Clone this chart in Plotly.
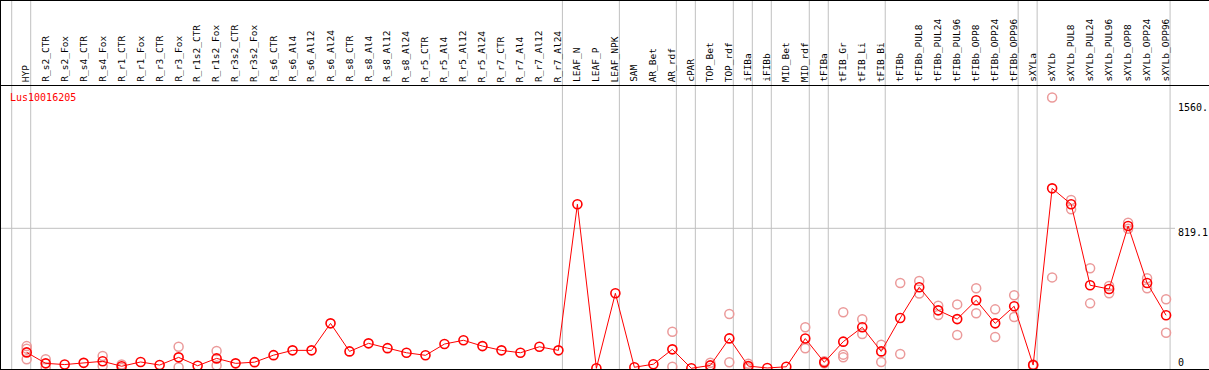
import plotly.graph_objects as go

W, H = 1209, 370
HEADER = 85

gene = "Lus10016205"

labels = ["HYP", "R_s2_CTR", "R_s2_Fox", "R_s4_CTR", "R_s4_Fox", "R_r1_CTR", "R_r1_Fox",
          "R_r3_CTR", "R_r3_Fox", "R_r1s2_CTR", "R_r1s2_Fox", "R_r3s2_CTR", "R_r3s2_Fox",
          "R_s6_CTR", "R_s6_Al4", "R_s6_Al12", "R_s6_Al24", "R_s8_CTR", "R_s8_Al4",
          "R_s8_Al12", "R_s8_Al24", "R_r5_CTR", "R_r5_Al4", "R_r5_Al12", "R_r5_Al24",
          "R_r7_CTR", "R_r7_Al4", "R_r7_Al12", "R_r7_Al24", "LEAF_N", "LEAF_P", "LEAF_NPK",
          "SAM", "AR_Bet", "AR_rdf", "cPAR", "TOP_Bet", "TOP_rdf", "iFIBa", "iFIBb",
          "MID_Bet", "MID_rdf", "tFIBa", "tFIB_Gr", "tFIB_Li", "tFIB_Bi", "tFIBb",
          "tFIBb_PUL8", "tFIBb_PUL24", "tFIBb_PUL96", "tFIBb_OPP8", "tFIBb_OPP24",
          "tFIBb_OPP96", "sXYLa", "sXYLb", "sXYLb_PUL8", "sXYLb_PUL24", "sXYLb_PUL96",
          "sXYLb_OPP8", "sXYLb_OPP24", "sXYLb_OPP96"]

# group sizes (gray separators after each group)
group_sizes = [1, 28, 3, 3, 1, 2, 1, 1, 2, 1, 3, 7, 1, 7]

mean_vals = [93, 29, 22, 32, 41, 12, 37, 19, 64, 15, 58, 29, 36, 77, 105, 105, 263, 99, 146,
             118, 91, 76, 142, 164, 130, 105, 91, 126, 105, 960, 0, 439, 6, 24, 111, 0, 17,
             175, 13, 2, 9, 174, 35, 156, 240, 99, 294, 474, 339, 288, 398, 263, 363, 19,
             1053, 960, 486, 464, 833, 499, 310]

rep_a = [130, 53, None, None, 72, 22, None, None, 126, None, 101, None, None, None, None,
         None, None, None, None, None, None, None, None, None, None, None, None, None, None,
         None, None, None, None, None, 214, None, 33, 318, 27, None, None, 240, 41, 328, 287,
         138, 499, 511, 366, 374, 468, 345, 427, 22, 1584, 985, 585, 482, 852, 527, 404]
rep_b = [115, 6, None, None, 13, 2, None, None, 6, None, 17, None, None, None, None,
         None, None, None, None, None, None, None, None, None, None, None, None, None, None,
         None, None, None, None, None, 9, None, 2, 35, 0, None, None, 117, 29, 80, 201,
         37, 84, 437, 312, 195, 322, 183, 300, 16, 532, 930, 380, 439, 817, 468, 208]
rep_c = [53] + [None] * 42 + [64] + [None] * 17

y_ticks = [1560, 819.1, 0]
y_tick_text = ["1560.", "819.1", "0"]

x_idx = list(range(len(labels)))

# pixel-to-data calibration
x_min, x_max = -1.406, 62.26
y_min, y_max = -9.9, 1657.6
plot_h = H - HEADER

RED = "#ff0000"
PINK = "#eb9a9a"
GRAY = "#c0c0c0"

fig = go.Figure()

for reps in (rep_a, rep_b, rep_c):
    xs = [i for i, v in zip(x_idx, reps) if v is not None]
    ys = [v for v in reps if v is not None]
    fig.add_trace(go.Scatter(x=xs, y=ys, mode="markers",
                             marker=dict(symbol="circle-open", size=9, color=PINK,
                                         line=dict(width=1.5, color=PINK)),
                             hoverinfo="skip", showlegend=False, cliponaxis=False))

fig.add_trace(go.Scatter(x=x_idx, y=mean_vals, mode="lines+markers",
                         line=dict(color=RED, width=1),
                         marker=dict(symbol="circle-open", size=9, color=RED,
                                     line=dict(width=1.6, color=RED)),
                         showlegend=False, cliponaxis=False))

shapes = []
# group separator lines
ends = [-1]
acc = -1
for g in group_sizes:
    acc += g
    ends.append(acc)
for e in ends:
    shapes.append(dict(type="line", xref="x", yref="paper", x0=e + 0.21, x1=e + 0.21,
                       y0=0, y1=H / plot_h, line=dict(color=GRAY, width=1), layer="below"))

# horizontal gridline at the middle tick
shapes.append(dict(type="line", xref="paper", yref="y", x0=0, x1=1175 / W,
                   y0=y_ticks[1], y1=y_ticks[1], line=dict(color=GRAY, width=1), layer="below"))


def py(p):
    return (H - p) / plot_h


# black frame lines
shapes += [
    dict(type="line", xref="paper", yref="paper", x0=0, x1=1, y0=py(0.5), y1=py(0.5),
         line=dict(color="black", width=1)),
    dict(type="line", xref="paper", yref="paper", x0=0, x1=1, y0=py(85.5), y1=py(85.5),
         line=dict(color="black", width=1)),
    dict(type="line", xref="paper", yref="paper", x0=0, x1=1, y0=py(369.5), y1=py(369.5),
         line=dict(color="black", width=1)),
    dict(type="line", xref="paper", yref="paper", x0=0.5 / W, x1=0.5 / W, y0=py(0), y1=py(370),
         line=dict(color="black", width=1)),
]

annotations = []
FONT = "DejaVu Sans Mono"
for i, lab in zip(x_idx, labels):
    annotations.append(dict(x=i, y=py(83), xref="x", yref="paper", text=lab, textangle=-90,
                            showarrow=False, xanchor="center", yanchor="bottom",
                            font=dict(family=FONT, size=9.5, color="black"),
                            borderpad=0, xshift=-1))

annotations.append(dict(x=9 / W, y=py(97), xref="paper", yref="paper", text=gene,
                        showarrow=False, xanchor="left", yanchor="middle",
                        font=dict(family=FONT, size=10, color=RED), borderpad=0))

for txt, pyy in zip(y_tick_text, [107, 232, 362]):
    annotations.append(dict(x=1177 / W, y=py(pyy), xref="paper", yref="paper", text=txt,
                            showarrow=False, xanchor="left", yanchor="middle",
                            font=dict(family=FONT, size=10, color="black"), borderpad=0))

fig.update_layout(
    width=W, height=H,
    margin=dict(l=0, r=0, t=HEADER, b=0),
    paper_bgcolor="white", plot_bgcolor="white",
    xaxis=dict(range=[x_min, x_max], visible=False, fixedrange=True),
    yaxis=dict(range=[y_min, y_max], visible=False, fixedrange=True),
    shapes=shapes, annotations=annotations,
    showlegend=False,
)

fig.write_html("out.html", config={"displayModeBar": False},
               post_script="document.body.style.margin='0';document.body.style.overflow='hidden';")
